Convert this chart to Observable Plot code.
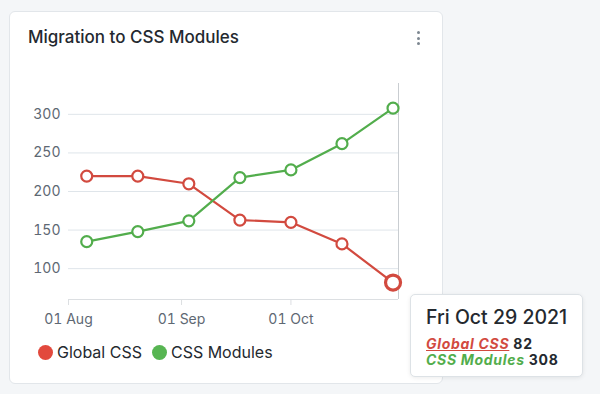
<!DOCTYPE html>
<html>
<head>
<meta charset="utf-8">
<script src="https://cdn.jsdelivr.net/npm/d3@7"></script>
<script src="https://cdn.jsdelivr.net/npm/@observablehq/plot@0.6"></script>
<style>
  html, body { margin: 0; padding: 0; }
  body { width: 600px; height: 394px; background: #f4f6f8; position: relative; overflow: hidden; font-family: Inter, "Noto Sans", sans-serif; }
  .card { position: absolute; left: 9px; top: 11px; width: 432px; height: 371px; background: #fff; border: 1px solid #e2e6ea; border-radius: 6px; }
  .title { position: absolute; left: 28px; top: 27px; font-size: 17px; line-height: 20px; font-weight: 500; color: #24292f; }
  .kebab { position: absolute; left: 416.5px; top: 31px; width: 4px; }
  .kebab span { display: block; width: 3px; height: 3px; border-radius: 50%; background: #7d8791; margin-bottom: 2.5px; }
  #chart { position: absolute; left: 0; top: 70px; }
  .legend { position: absolute; left: 38px; top: 342px; display: flex; align-items: center; font-size: 16px; color: #24292f; }
  .legend .sw { width: 15px; height: 15px; border-radius: 50%; display: inline-block; margin-right: 4px; }
  .legend .item { display: flex; align-items: center; margin-right: 10px; }
  .tip { position: absolute; left: 410px; top: 294px; width: 171px; height: 81px; background: #fff; border: 1px solid #dde2e6; border-radius: 5px; box-shadow: 0 1px 4px rgba(0,0,0,0.08); }
  .tip .date { position: absolute; left: 15px; top: 10px; font-size: 19.5px; line-height: 24px; font-weight: 500; color: #24292f; white-space: nowrap; }
  .tip .row { position: absolute; left: 15px; font-size: 14px; line-height: 14px; font-weight: 700; color: #24292f; white-space: nowrap; letter-spacing: 0.7px; }
  .tip .row i { font-style: italic; }
  .tip .row u { text-decoration: underline; text-underline-offset: 1px; }
</style>
</head>
<body>
<div class="card"></div>
<div class="title">Migration to CSS Modules</div>
<div class="kebab"><span></span><span></span><span></span></div>
<div id="chart"></div>
<div class="legend" id="legend"></div>
<div class="tip" id="tip"></div>
<script>
const dates = ["2021-08-06", "2021-08-20", "2021-09-03", "2021-09-17", "2021-10-01", "2021-10-15", "2021-10-29"];
const seriesNames = ["Global CSS", "CSS Modules"];
const globalCss = [220, 220, 210, 163, 160, 132, 82];
const cssModules = [135, 148, 162, 218, 228, 262, 308];
const seriesColors = ["#d24a3f", "#52ad4c"];
const legendColors = ["#e2493d", "#57b552"];
const xTicks = ["2021-08-01", "2021-09-01", "2021-10-01"];
const yTicks = [100, 150, 200, 250, 300];
const xDomain = ["2021-08-01", "2021-10-30T12:00"];
const yDomain = [60, 340];
const hoverDate = "2021-10-29";

const parse = d3.utcParse("%Y-%m-%d");
const parseIso = s => new Date(s.length === 10 ? s + "T00:00:00Z" : s + ":00Z");
const rows = [];
[globalCss, cssModules].forEach((vals, i) => {
  vals.forEach((v, j) => rows.push({ date: parse(dates[j]), value: v, series: seriesNames[i] }));
});
const hovered = rows.filter(r => +r.date === +parse(hoverDate));

const colorScale = { domain: seriesNames, range: seriesColors };

const chart = Plot.plot({
  width: 420,
  height: 260,
  marginLeft: 68,
  marginRight: 22,
  marginTop: 13,
  marginBottom: 31,
  style: { fontFamily: "Inter, 'Noto Sans', sans-serif", fontSize: "14px", color: "#5e6873", background: "transparent", overflow: "visible" },
  x: { type: "utc", domain: xDomain.map(parseIso), axis: null, label: null },
  y: { domain: yDomain, axis: null, label: null },
  color: colorScale,
  marks: [
    Plot.gridY(yTicks, { stroke: "#dfe5ea", strokeOpacity: 1 }),
    Plot.ruleY([yDomain[0]], { stroke: "#dcdfe2" }),
    Plot.ruleX([parseIso(xDomain[1])], { stroke: "#c9cdd1" }),
    Plot.axisX(xTicks.map(parse), { tickSize: 6, stroke: "#dcdfe2", tickPadding: 9, tickFormat: d3.utcFormat("%d %b"), fill: "#5e6873", fontSize: 14, label: null }),
    Plot.axisY(yTicks, { tickSize: 0, tickPadding: 8, fill: "#5e6873", fontSize: 14, label: null }),
    Plot.line(rows, { x: "date", y: "value", z: "series", stroke: "series", strokeWidth: 2.2 }),
    Plot.dot(rows, { x: "date", y: "value", stroke: "series", fill: "white", r: 5.5, strokeWidth: 2.2 }),
    Plot.dot(hovered.filter(d => d.series === seriesNames[0]), { x: "date", y: "value", stroke: "series", fill: "white", r: 7.5, strokeWidth: 3.2 })
  ]
});
document.getElementById("chart").appendChild(chart);

const legend = document.getElementById("legend");
seriesNames.forEach((name, i) => {
  const item = document.createElement("div");
  item.className = "item";
  item.innerHTML = `<span class="sw" style="background:${legendColors[i]}"></span><span>${name}</span>`;
  legend.appendChild(item);
});

const tip = document.getElementById("tip");
const hd = parse(hoverDate);
const dateLabel = d3.utcFormat("%a %b %d %Y")(hd);
let html = `<div class="date">${dateLabel}</div>`;
seriesNames.forEach((name, i) => {
  const v = hovered.find(d => d.series === name).value;
  const label = i === 0 ? `<u>${name}</u>` : name;
  html += `<div class="row" style="top:${42 + i * 16}px"><i style="color:${seriesColors[i]}">${label}</i> ${v}</div>`;
});
tip.innerHTML = html;
</script>
</body>
</html>
